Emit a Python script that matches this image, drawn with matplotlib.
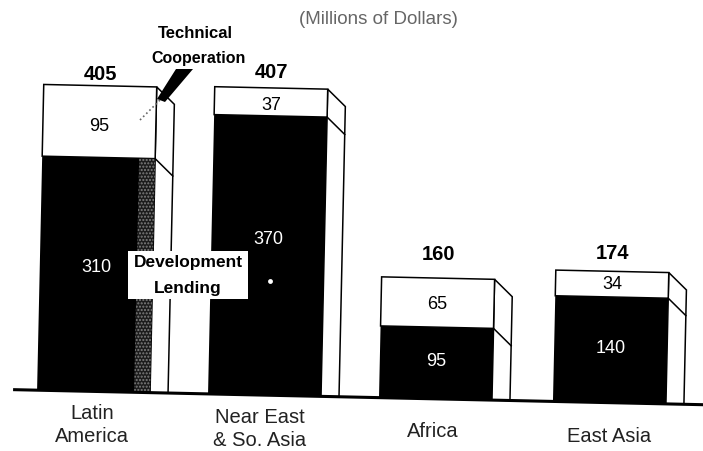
import matplotlib
matplotlib.use('Agg')
import matplotlib.pyplot as plt
from matplotlib.patches import Polygon, Rectangle
from matplotlib.transforms import Affine2D

plt.rcParams['font.family'] = ['Liberation Sans', 'DejaVu Sans']

# --- Data (millions of dollars) ---
regions = ['Latin\nAmerica', 'Near East\n& So. Asia', 'Africa', 'East Asia']
lending = [310, 370, 95, 140]
technical = [95, 37, 65, 34]
totals = [405, 407, 160, 174]

# --- Layout, in pixels of the 703x452 picture ---
W, H = 703, 452
px_per_unit = 0.755
base_px = 398
bar_left = [37, 208, 379, 553]
bar_width = 113
depth_x, depth_y = 18, 17 / px_per_unit
# nudges for the printed numbers, in data units
low_nudge = [10, 22, 3, 3]
top_nudge = [-5, -3, -1, 1]
total_nudge = [16, 22, 32, 25]

fig = plt.figure(figsize=(W / 100, H / 100), dpi=100, facecolor='white')
ax = fig.add_axes([0, 0, 1, 1])
ax.set_xlim(0, W)
ax.set_ylim((base_px - H) / px_per_unit, base_px / px_per_unit)
ax.axis('off')

# the scanned page sits slightly crooked
tilt = Affine2D().rotate_deg_around(350, H - base_px, -1.25)
tr = ax.transData + tilt

for i, (x, low, top, total) in enumerate(zip(bar_left, lending, technical, totals)):
    right = x + bar_width
    # side face
    ax.add_patch(Polygon([(right, 0), (right, total), (right + depth_x, total - depth_y),
                          (right + depth_x, 0)], closed=True, fc='white', ec='black',
                         lw=1.1, transform=tr))
    ax.plot([right, right + depth_x], [low, low - depth_y], color='black', lw=1.1, transform=tr)
    # front face
    ax.bar(x, low, width=bar_width, align='edge', color='black', transform=tr)
    ax.bar(x, top, width=bar_width, bottom=low, align='edge', color='white',
           edgecolor='black', linewidth=1.1, transform=tr)
    cx = x + bar_width / 2
    ax.text(cx, low / 2 + low_nudge[i], str(low), color='white', fontsize=13, ha='center', va='center', transform=tr)
    ax.text(cx, low + top / 2 + top_nudge[i], str(top), color='black', fontsize=13, ha='center', va='center', transform=tr)
    ax.text(cx, total + total_nudge[i], str(total), color='black', fontsize=14.5, fontweight='bold',
            ha='center', va='center', transform=tr)

# mottled grey strip on the right of the first bar
ax.add_patch(Rectangle((bar_left[0] + 97, 0), 16, lending[0], fc='#1c1c1c', ec='#808080',
                       hatch='.....', lw=0, transform=tr))

# baseline
ax.plot([13, W + 10], [0, 0], color='black', lw=2.2, transform=tr, solid_capstyle='butt', zorder=5)


def px_text(x, y, s, **kw):
    fig.text(x / W, 1 - y / H, s, ha='center', va='center', **kw)


# category labels
label_x = [92, 260, 433, 609]
label_y = [425, 429, 432, 437]
for x, y, name in zip(label_x, label_y, regions):
    px_text(x, y, name, fontsize=14.5, color='#222222', linespacing=1.3)

px_text(378, 20, '(Millions of Dollars)', fontsize=13.5, color='#666666')

# callouts
fig.add_artist(Polygon([(176 / W, 1 - 70 / H), (193 / W, 1 - 70 / H), (165 / W, 1 - 103 / H),
                        (157 / W, 1 - 100 / H)], closed=True, fc='black', ec='none',
                       transform=fig.transFigure))
fig.add_artist(plt.Line2D([140 / W, 160 / W], [1 - 121 / H, 1 - 101 / H], color='#666666',
                          lw=1.2, ls=':', transform=fig.transFigure))
px_text(195, 33, 'Technical', fontsize=12, fontweight='bold')
px_text(199, 59, 'Cooperation', fontsize=11.5, fontweight='bold')

fig.add_artist(Rectangle((128 / W, 1 - 300 / H), 120 / W, 48 / H, fc='white', ec='none',
                         transform=fig.transFigure, zorder=3))
px_text(188, 263, 'Development', fontsize=12.5, fontweight='bold', zorder=4)
px_text(188, 288, 'Lending', fontsize=12.5, fontweight='bold', zorder=4)

# white speck on the second bar
fig.add_artist(plt.Line2D([270 / W], [1 - 282 / H], marker='o', ms=3.5, color='white', mec='none',
                          transform=fig.transFigure))

fig.savefig('out.png', dpi=100)
